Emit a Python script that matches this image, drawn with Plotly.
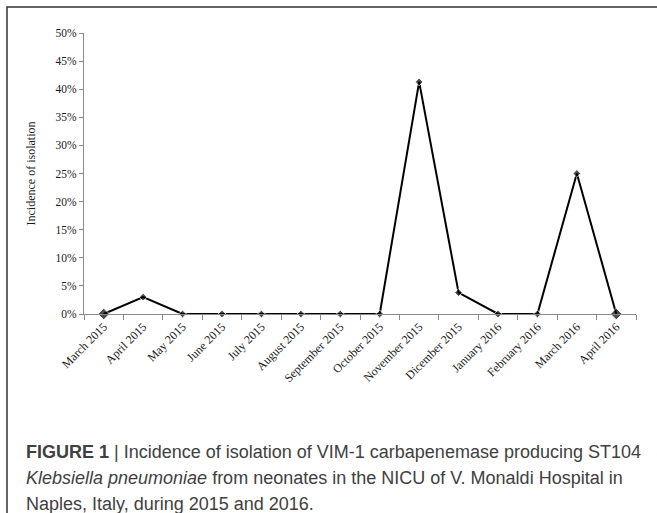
import plotly.graph_objects as go

months = ["March 2015", "April 2015", "May 2015", "June 2015", "July 2015",
          "August 2015", "September 2015", "October 2015", "November 2015",
          "Dicember 2015", "January 2016", "February 2016", "March 2016", "April 2016"]
incidence = [0.0, 0.030, 0.0, 0.0, 0.0, 0.0, 0.0, 0.0, 0.413, 0.038, 0.0, 0.0, 0.25, 0.0]
y_ticks = [0, 0.05, 0.10, 0.15, 0.20, 0.25, 0.30, 0.35, 0.40, 0.45, 0.50]

W, H = 657, 513
ML, MR, MT, MB = 84, 21, 33, 199
PW, PH = W - ML - MR, H - MT - MB

def px(x):
    return (x - ML) / PW

def py(y):
    return 1 - (y - MT) / PH

sizes = [9] + [6] * (len(months) - 2) + [9]

fig = go.Figure()
fig.add_trace(go.Scatter(
    x=months, y=incidence, mode="lines+markers",
    line=dict(color="black", width=2),
    marker=dict(symbol="diamond", size=sizes, color="black"),
    showlegend=False, cliponaxis=False,
))

serif = "Liberation Serif, Times New Roman, serif"
fig.update_layout(
    width=W, height=H,
    margin=dict(l=ML, r=MR, t=MT, b=MB),
    paper_bgcolor="white", plot_bgcolor="white",
    xaxis=dict(
        type="category", range=[-0.5, 13.5], tickson="boundaries",
        showline=True, linecolor="#8a8a8a", linewidth=1,
        ticks="outside", ticklen=5, tickcolor="#8a8a8a",
        showgrid=False, zeroline=False, tickangle=-45,
        tickfont=dict(family=serif, size=12, color="#1a1a1a"),
    ),
    yaxis=dict(
        range=[0, 0.5], tickvals=y_ticks, tickformat=".0%",
        showline=True, linecolor="#8a8a8a", linewidth=1,
        ticks="outside", ticklen=4, tickcolor="#8a8a8a",
        showgrid=False, zeroline=False,
        tickfont=dict(family=serif, size=11.5, color="#1a1a1a"),
        title=dict(text="Incidence of isolation", font=dict(family=serif, size=12, color="#1a1a1a"), standoff=17),
    ),
)

# outer frame (only left and top edges fall inside the picture)
fig.add_shape(type="rect", xref="paper", yref="paper", layer="above",
              x0=px(7), x1=px(W + 10), y0=py(7), y1=py(H + 10),
              line=dict(color="#333", width=1.5), fillcolor="rgba(0,0,0,0)")

cap_font = dict(family="Liberation Sans, Arial, sans-serif", size=18, color="#404040")
lines = [
    "<b>FIGURE 1</b> | Incidence of isolation of VIM-1 carbapenemase producing ST104",
    "<i>Klebsiella pneumoniae</i> from neonates in the NICU of V. Monaldi Hospital in",
    "Naples, Italy, during 2015 and 2016.",
]
for i, t in enumerate(lines):
    fig.add_annotation(text=t, xref="paper", yref="paper", x=px(24), y=py(452 + 26 * i),
                       xanchor="left", yanchor="middle", showarrow=False, font=cap_font)

fig.write_html("out.html", config={"displayModeBar": False},
               post_script="document.body.style.margin='0';document.body.style.overflow='hidden';")
